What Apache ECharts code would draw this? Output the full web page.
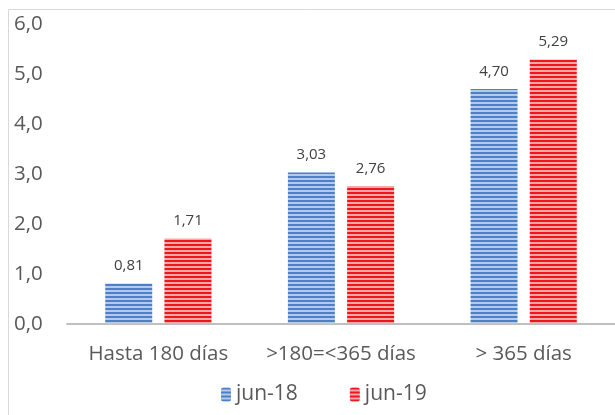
<!DOCTYPE html>
<html><head><meta charset="utf-8">
<script src="https://cdn.jsdelivr.net/npm/echarts@6/dist/echarts.min.js"></script>
<style>html,body{margin:0;padding:0;background:#fff}#c{width:615px;height:415px}</style>
</head><body><div id="c"></div>
<script>
var categories = ['Hasta 180 días', '>180=<365 días', '> 365 días'];
var seriesNames = ['jun-18', 'jun-19'];
var jun18 = [0.81, 3.03, 4.70];
var jun19 = [1.71, 2.76, 5.29];
var yTicks = [0, 1, 2, 3, 4, 5, 6];

function stripe(dark, light) {
  var cv = document.createElement('canvas');
  cv.width = 4; cv.height = 4;
  var ctx = cv.getContext('2d');
  ctx.fillStyle = light; ctx.fillRect(0, 0, 4, 4);
  ctx.fillStyle = dark; ctx.fillRect(0, 0, 4, 2);
  return { image: cv, repeat: 'repeat' };
}
var blueFill = stripe('#4f7fc6', '#b3cbea');
var redFill = stripe('#f0141c', '#f6a8a8');

var font = '"Open Sans", Lato, sans-serif';
var chart = echarts.init(document.getElementById('c'), null, { renderer: 'canvas' });
function fmt(v) { return v.toFixed(2).replace('.', ','); }
var valLabel = { show: true, position: 'top', distance: 10, fontFamily: font, fontSize: 15, color: '#404040',
  formatter: function (p) { return fmt(p.value); } };
chart.setOption({
  animation: false,
  graphic: [{ type: 'polyline', shape: { points: [[8.5, 415], [8.5, 9.5], [615, 9.5]] }, style: { stroke: '#d9d9d9', lineWidth: 1, fill: null } }],
  grid: { left: 67, top: 24, width: 555, height: 300, containLabel: false },
  legend: {
    bottom: 5, left: 216, itemWidth: 10, itemHeight: 14, itemGap: 52, itemTextGap: 3,
    textStyle: { fontFamily: font, fontSize: 21, color: '#595959' },
    data: [{ name: 'jun-18', itemStyle: { color: blueFill } }, { name: 'jun-19', itemStyle: { color: redFill } }]
  },
  xAxis: {
    type: 'category', data: categories,
    axisLine: { lineStyle: { color: '#bfbfbf', width: 2 } },
    axisTick: { show: false },
    axisLabel: { fontFamily: font, fontSize: 20.5, color: '#595959', margin: 20, interval: 0, hideOverlap: false }
  },
  yAxis: {
    type: 'value', min: yTicks[0], max: yTicks[yTicks.length - 1], interval: 1,
    splitLine: { show: false }, axisLine: { show: false }, axisTick: { show: false },
    axisLabel: { fontFamily: font, fontSize: 20.5, color: '#595959', margin: 53, align: 'left',
      formatter: function (v) { return v.toFixed(1).replace('.', ','); } }
  },
  series: [
    { name: seriesNames[0], type: 'bar', data: jun18, barWidth: 47, barGap: '26%',
      itemStyle: { color: blueFill }, label: valLabel },
    { name: seriesNames[1], type: 'bar', data: jun19, barWidth: 47,
      itemStyle: { color: redFill }, label: valLabel }
  ]
});
</script></body></html>
